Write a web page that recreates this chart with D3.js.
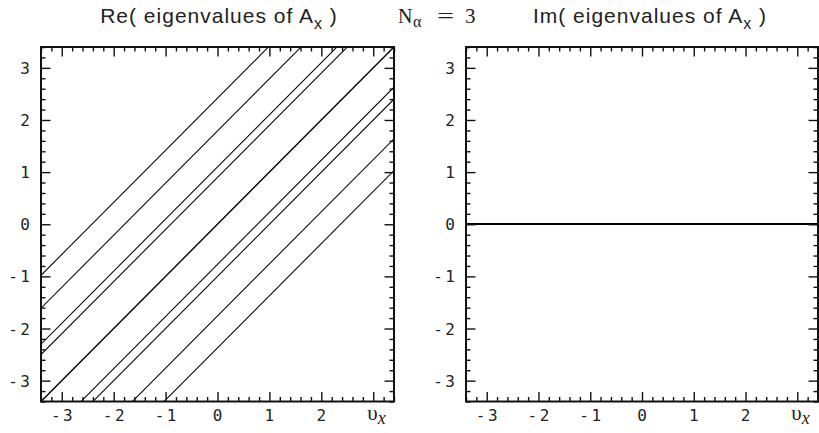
<!DOCTYPE html>
<html>
<head>
<meta charset="utf-8">
<script src="https://cdn.jsdelivr.net/npm/d3@7"></script>
<style>
  html, body { margin: 0; padding: 0; background: #fff; }
  svg { display: block; }
</style>
</head>
<body>
<svg id="chart" width="819" height="433"></svg>
<script>
// ---- data ----
const vEnds = [-3.4, 3.4];               // velocity at left/right panel edges
// Re(eigenvalues) at v = -3.4 and v = 3.4 (straight lines)
const reEig1 = [-0.98, 5.82];
const reEig2 = [-1.61, 5.19];
const reEig3 = [-2.30, 4.50];
const reEig4 = [-2.50, 4.30];
const reEig5 = [-3.40, 3.40];
const reEig6 = [-4.17, 2.63];
const reEig7 = [-4.40, 2.40];
const reEig8 = [-5.16, 1.64];
const reEig9 = [-5.77, 1.03];
const reSeries = [reEig1, reEig2, reEig3, reEig4, reEig5, reEig6, reEig7, reEig8, reEig9];
const imSeries = [[0,0],[0,0],[0,0],[0,0],[0,0],[0,0],[0,0],[0,0],[0,0]];
const majorTicks = [-3, -2, -1, 0, 1, 2, 3];
const xTickLabels = ["-3", "-2", "-1", "0", "1", "2"];
const yTickLabels = ["-3", "-2", "-1", "0", "1", "2", "3"];
const domain = [-3.4, 3.4];

const svg = d3.select("#chart");
const minorTicks = d3.range(-34, 35, 2).map(d => d / 10).filter(d => Math.abs(d - Math.round(d)) > 1e-6);
const LS = 2.5; // letter spacing of tick labels

function panel(x0, x1, y0, y1, series, titleMain, id, thick, titleCx) {
  const x = d3.scaleLinear().domain(domain).range([x0, x1]);
  const y = d3.scaleLinear().domain(domain).range([y1, y0]);
  const g = svg.append("g");

  g.append("clipPath").attr("id", id).append("rect")
    .attr("x", x0).attr("y", y0).attr("width", x1 - x0).attr("height", y1 - y0);

  const line = d3.line().x((d, i) => x(vEnds[i])).y(d => y(d));
  g.append("g").attr("clip-path", `url(#${id})`)
    .selectAll("path").data(series).join("path")
    .attr("d", line)
    .attr("fill", "none")
    .attr("stroke", "#000")
    .attr("stroke-width", (d, i) => thick ? 1.4 : (i === 4 ? 1.4 : 1.05));

  function addAxis(axisGen, transform, vals, size) {
    const a = g.append("g").attr("transform", transform)
      .call(axisGen.tickValues(vals).tickSize(-size).tickFormat(""));
    a.select(".domain").remove();
    a.selectAll("line").attr("stroke", "#111").attr("stroke-width", 1.4);
  }
  [[majorTicks, 9.5], [minorTicks, 4.5]].forEach(([vals, s]) => {
    addAxis(d3.axisBottom(x), `translate(0,${y1})`, vals, s);
    addAxis(d3.axisTop(x), `translate(0,${y0})`, vals, s);
    addAxis(d3.axisLeft(y), `translate(${x0},0)`, vals, s);
    addAxis(d3.axisRight(y), `translate(${x1},0)`, vals, s);
  });

  g.append("rect").attr("x", x0).attr("y", y0).attr("width", x1 - x0).attr("height", y1 - y0)
    .attr("fill", "none").attr("stroke", "#111").attr("stroke-width", 2);

  // tick labels
  g.selectAll(".xl").data(xTickLabels).join("text")
    .attr("x", d => x(+d) + LS / 2).attr("y", 421)
    .attr("text-anchor", "middle")
    .attr("font-family", "DejaVu Sans Mono").attr("font-size", 16).attr("letter-spacing", LS)
    .attr("fill", "#222")
    .text(d => d);
  g.selectAll(".yl").data(yTickLabels).join("text")
    .attr("x", x0 - 11 + LS).attr("y", d => y(+d) + 6)
    .attr("text-anchor", "end")
    .attr("font-family", "DejaVu Sans Mono").attr("font-size", 16).attr("letter-spacing", LS)
    .attr("fill", "#222")
    .text(d => d);

  // axis variable label
  const vl = g.append("text").attr("x", x(3) - 6).attr("y", 420)
    .attr("font-family", "Liberation Serif").attr("font-size", 21).attr("fill", "#222");
  vl.append("tspan").text("υ");
  vl.append("tspan").attr("font-style", "italic").attr("font-size", 18).attr("dy", 4).text("x");

  // title
  const t = g.append("text").attr("x", titleCx).attr("y", 23).attr("text-anchor", "middle")
    .attr("font-family", "Liberation Sans").attr("font-size", 21).attr("letter-spacing", 1)
    .attr("fill", "#222");
  t.append("tspan").text(titleMain);
  t.append("tspan").attr("font-size", 16).attr("dy", 6).text("x");
  t.append("tspan").attr("dy", -6).text(" )");
}

panel(41, 394, 47, 401.5, reSeries, "Re( eigenvalues of A", "clipL", false, 219);
panel(466, 818, 47, 401.5, imSeries, "Im( eigenvalues of A", "clipR", true, 650);

// central label N_alpha = 3
const serif = "Liberation Serif";
svg.append("text").attr("x", 398).attr("y", 23)
  .attr("font-family", serif).attr("font-size", 20).attr("fill", "#222").text("N");
svg.append("text").attr("x", 413).attr("y", 27)
  .attr("font-family", serif).attr("font-size", 16).attr("fill", "#222").text("α");
svg.append("text").attr("x", 437).attr("y", 23)
  .attr("font-family", serif).attr("font-size", 22).attr("fill", "#222")
  .attr("textLength", 17).attr("lengthAdjust", "spacingAndGlyphs").text("=");
svg.append("text").attr("x", 465).attr("y", 23)
  .attr("font-family", serif).attr("font-size", 21).attr("fill", "#222").text("3");
</script>
</body>
</html>
